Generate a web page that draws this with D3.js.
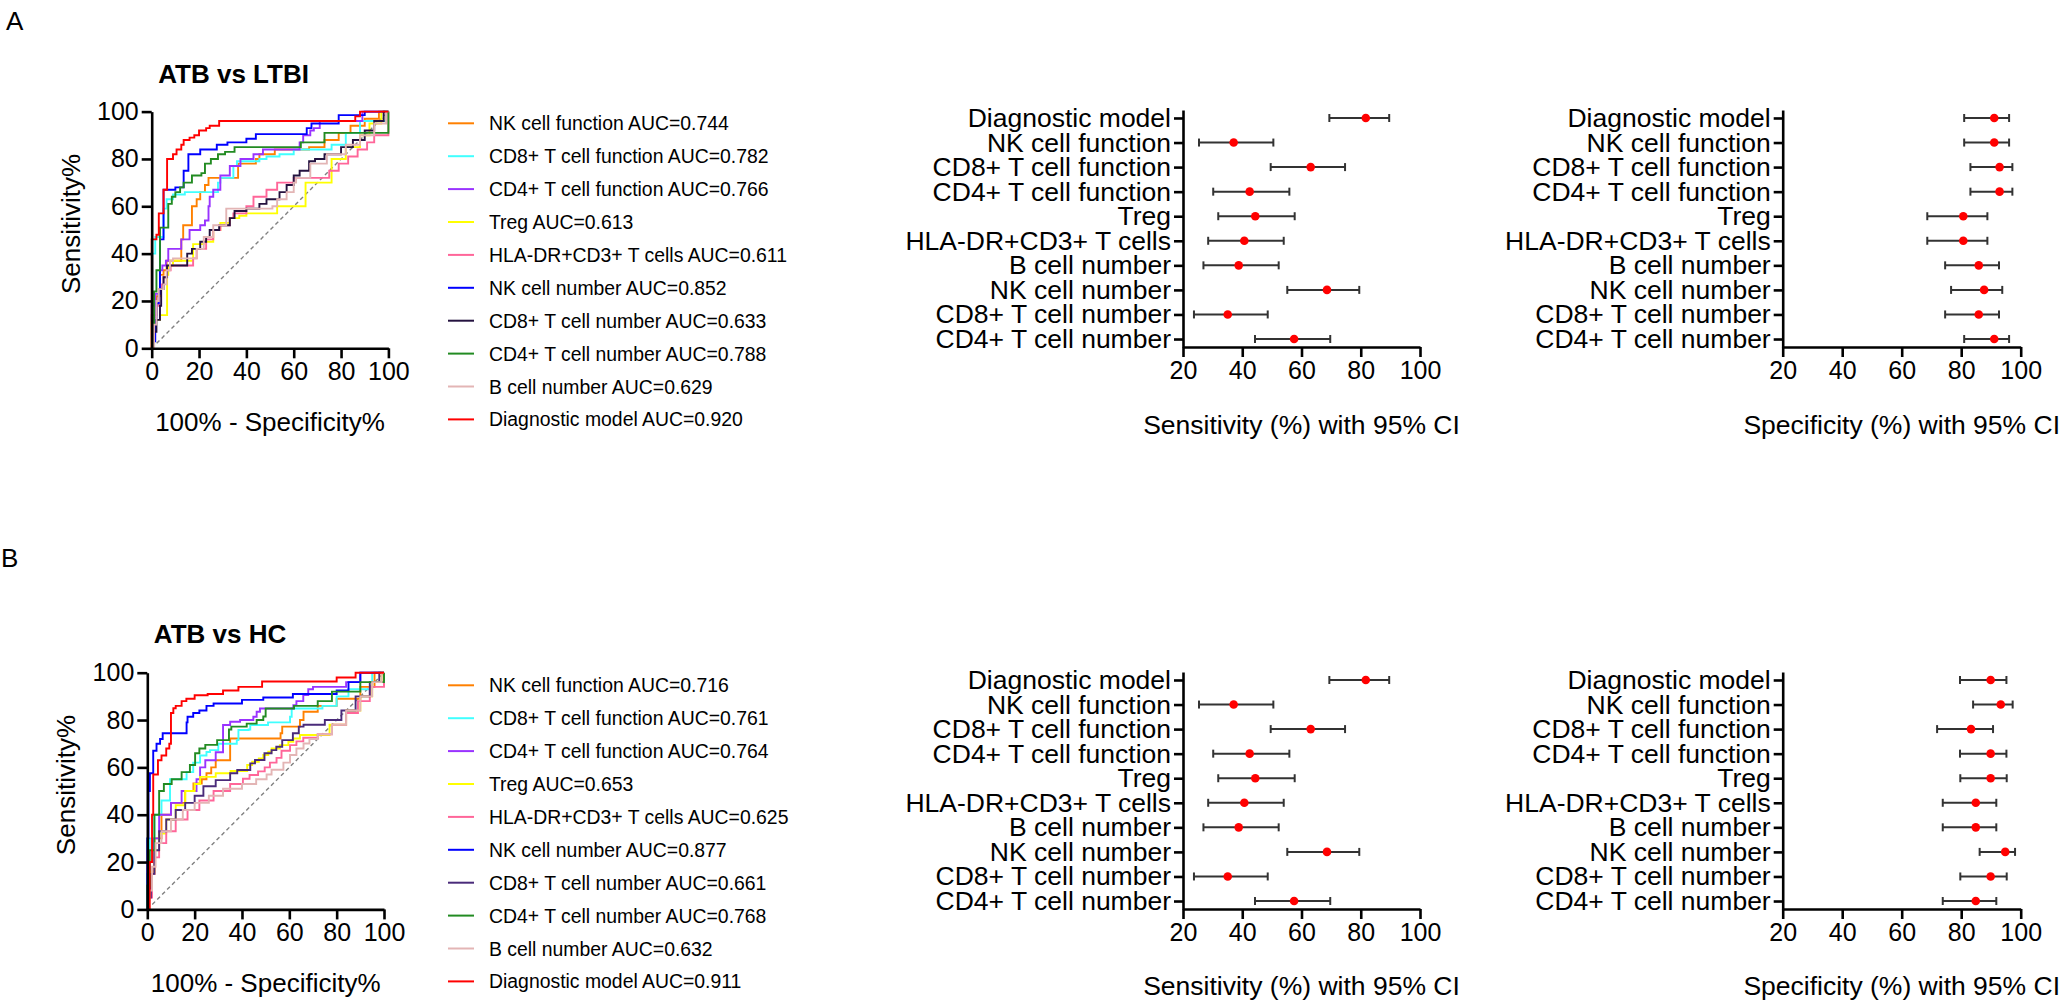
<!DOCTYPE html>
<html><head><meta charset="utf-8">
<script src="https://cdn.jsdelivr.net/npm/d3@7"></script>
<style>
body{margin:0;background:#fff;}
svg{display:block;font-family:"Liberation Sans",Arial,sans-serif;}
</style></head><body>
<svg id="chart" width="2065" height="1002"></svg>
<script>
// ---------------- DATA ----------------
const markers = ["Diagnostic model","NK cell function","CD8+ T cell function","CD4+ T cell function","Treg","HLA-DR+CD3+ T cells","B cell number","NK cell number","CD8+ T cell number","CD4+ T cell number"];

const sensA   = [81.7, 37.1, 63.1, 42.5, 44.4, 40.7, 38.8, 68.6, 35.1, 57.5];
const sensALo = [69.4, 25.4, 49.6, 30.2, 31.9, 28.5, 26.9, 55.2, 23.7, 44.3];
const sensAHi = [89.6, 50.5, 74.7, 55.9, 57.7, 54.0, 52.3, 79.5, 48.6, 69.7];
const specA   = [91.1, 91.1, 92.9, 92.9, 80.7, 80.7, 85.9, 87.7, 85.9, 91.1];
const specALo = [81.0, 81.0, 83.1, 83.1, 68.6, 68.6, 74.6, 76.6, 74.6, 81.0];
const specAHi = [96.1, 96.1, 97.2, 97.2, 88.8, 88.8, 92.7, 93.8, 92.7, 96.1];

const sensB   = [81.7, 37.1, 63.1, 42.5, 44.4, 40.7, 38.8, 68.6, 35.1, 57.5];
const sensBLo = [69.4, 25.4, 49.6, 30.2, 31.9, 28.5, 26.9, 55.2, 23.7, 44.3];
const sensBHi = [89.6, 50.5, 74.7, 55.9, 57.7, 54.0, 52.3, 79.5, 48.6, 69.7];
const specB   = [89.9, 93.3, 83.3, 89.9, 89.9, 84.9, 84.9, 94.8, 89.9, 84.9];
const specBLo = [79.6, 84.0, 71.9, 79.6, 79.7, 73.8, 73.8, 86.2, 79.7, 73.8];
const specBHi = [95.2, 97.3, 90.7, 95.2, 95.3, 91.8, 91.8, 98.1, 95.3, 91.8];

const rocNames = ["NK cell function","CD8+ T cell function","CD4+ T cell function","Treg","HLA-DR+CD3+ T cells","NK cell number","CD8+ T cell number","CD4+ T cell number","B cell number","Diagnostic model"];
const aucA = [0.744, 0.782, 0.766, 0.613, 0.611, 0.852, 0.633, 0.788, 0.629, 0.920];
const aucB = [0.716, 0.761, 0.764, 0.653, 0.625, 0.877, 0.661, 0.768, 0.632, 0.911];

const rocTicks = [0, 20, 40, 60, 80, 100];
const forestTicks = [20, 40, 60, 80, 100];

// ROC curves, panel A: [100% - specificity, sensitivity]
const rocA_nkFunc = [[0,0],[0,14],[2,22],[3.5,31],[5,33],[6.3,37],[12.5,46],[13.3,52],[17,60],[19,63],[20.5,66],[22.5,69],[24,72],[36.5,78],[44,80],[45.5,82],[52,84],[66.5,85],[73,88],[79,91],[84,94],[90,97],[96,100],[100,100]];
const rocA_cd8Func = [[0,0],[0,40],[1.5,47],[5,59],[6.3,63],[9,65],[14,66],[28,70],[29,72],[34.5,77],[36,79],[45.5,80],[48.5,81],[54,82],[60,84],[76,86],[82,91],[88,96],[99,100],[100,100]];
const rocA_cd4Func = [[0,0],[0,18],[1.5,23],[3.5,33],[4.5,35],[6,37],[7,42],[12.5,46],[16,50],[20.5,52],[22.5,54],[24,60],[24.5,64],[26,67],[29,73],[33,77],[37.5,80],[43,82],[47,84],[62.5,87],[64,90],[67,92],[68.5,93],[71,96],[89,100],[100,100]];
const rocA_treg = [[0,0],[0,11],[1.5,12],[3.5,14],[6.5,31],[7,35],[9,37],[17.5,44],[22,45],[26,50],[29,53],[33,55],[37,56],[40,57],[53,60],[65,70],[76,80],[82,85],[88,90],[92,95],[97,100],[100,100]];
const rocA_hla = [[0,0],[1,13],[2,18],[3,25],[4,27],[5,30],[6.5,33],[8,35],[17.5,38],[19,42],[23,46],[26,50],[29,52],[33,55],[34.5,57],[40,60],[43,64],[48.5,67],[53,70],[60,72],[75,75],[79,78],[83,81],[87,84],[91,87],[94,90],[100,100]];
const rocA_nkNum = [[0,0],[1,3],[1.5,12],[2,19],[3,23],[3.5,46],[5,67],[10,68],[13.5,75],[15.5,82],[20.5,84],[27.5,86],[32,87],[40,88.5],[44,90.5],[65.5,93],[67.5,95],[79,98.5],[90,100],[100,100]];
const rocA_cd8Num = [[0,0],[0.7,7],[2,12],[3.5,18],[4,25],[5,30],[6.5,35],[15,40],[17,42],[20.5,45],[23,47],[24.5,50],[28.5,52],[33,55],[35,58],[40,59],[45.5,61],[48.5,63],[54,66],[57,69],[60,73],[62.5,75],[66.5,79],[69,80],[73,82],[80,85],[85,88],[90,92],[94,96],[98,100],[100,100]];
const rocA_cd4Num = [[0,0],[1,24],[2,33],[3.5,51],[7,61],[8.5,64],[10,66],[12,68],[13.5,70],[17,73],[21,74],[22.5,78],[25,80],[28,82],[31,83],[35,85],[63,87],[73,91],[100,100]];
const rocA_bNum = [[0,0],[1,10],[2,20],[3,25],[5,27],[6.3,33],[7.7,37],[9,38],[19,42],[22,47],[26,52],[31.5,59],[51,60],[53,63],[57,66],[60,70],[61,72],[67,78],[74,82],[82,86],[88,90],[94,95],[99,100],[100,100]];
const rocA_model = [[0,0],[0,46],[2,48],[3,57],[5,67],[6.5,80],[9,82],[10.5,84],[12.5,86],[13.5,88],[16,89],[18,90],[20,92],[23,93],[24.5,94],[28.5,96],[86,98],[88,100],[100,100]];

// ROC curves, panel B
const rocB_nkFunc = [[0,0],[0,5],[1,15],[3,30],[6,40],[10,45],[16,50],[19.5,53.2],[23,55],[25,57.5],[27,60],[28.9,63],[35,72.2],[56.3,74.4],[57,77.2],[64.5,80],[66,83.5],[72,86],[80,89],[90,94],[96,100],[100,100]];
const rocB_cd8Func = [[0,0],[0,15],[1,30],[3,40],[6,46],[9.6,55],[16.6,58],[19.4,62],[22.3,65],[25,66.5],[26.5,67.3],[30,70],[37.8,71.5],[38.5,75.8],[42.8,76],[43.5,77.9],[51,79],[60.3,81.4],[61,84.9],[74,86],[80,90],[85,93],[95,100],[100,100]];
const rocB_cd4Func = [[0,0],[0,10],[1,20],[2.5,30],[5,40],[10,45],[14.5,50],[20.8,55],[22.3,60],[24.5,63],[28.9,66.4],[32,77.9],[35,79.3],[39.2,80],[44.8,81.4],[46.2,83.5],[47.6,84.9],[61.7,86.3],[63,88],[65.9,90.6],[68,93],[70,94],[84,96],[90,100],[100,100]];
const rocB_treg = [[0,0],[0.5,8],[1.5,16],[3,25],[5,32],[8,38],[12,44],[16,50],[20,53],[22.3,56],[28.9,57.5],[35.2,58.5],[42.2,61],[44.3,62.4],[47.1,63.8],[49,65.2],[51.1,66.6],[52.5,68],[56,69.4],[59.6,70.8],[61.7,72.2],[64.5,73.7],[77,78],[84,84],[90,90],[95,96],[99,100],[100,100]];
const rocB_hla = [[0,0],[0.5,5],[2,15],[3,22],[5,28],[8,33],[12,38],[17,42],[22,46],[28,50],[35,53],[40.4,55.2],[43.2,56.8],[46.8,58.3],[49.6,60],[51.8,62],[54.6,64],[56.7,67],[60.3,69.4],[63,71],[65.9,72.5],[72,74],[78,78],[84,83],[89,88],[94,94],[100,100]];
const rocB_nkNum = [[0,0],[0,30],[0.5,50],[1.1,57.5],[2.5,67],[3.9,70],[5.4,72],[6.5,74.4],[16.6,79],[17,81.4],[19.4,83],[22,84],[25,86],[28,87],[40,88.5],[49,89.5],[61.5,91],[80,92.5],[85,96],[90,100],[100,100]];
const rocB_cd8Num = [[0,0],[0.5,5],[1.5,15],[3,25],[5,33],[8,38],[12,42],[16,45],[20,48],[23.7,52],[28.9,54.6],[35,57.5],[38,58.9],[43.5,61.7],[45.5,63.1],[49.5,66],[52.5,67.3],[54.5,68.7],[57,71.5],[61.5,74.4],[64,77.2],[66,78],[75,80],[82,84],[88,90],[94,96],[98,100],[100,100]];
const rocB_cd4Num = [[0,0],[0,10],[1,25],[3,40],[5,50],[7,53],[10.3,55],[14.5,58],[18,61],[20.2,66],[22,68],[24.5,69.5],[29.5,71.5],[34.5,76],[35.5,77.2],[42,78.5],[46.2,80],[49,81.5],[50,84.9],[62,86],[72,88],[78,92],[90,96],[100,100]];
const rocB_bNum = [[0,0],[1,8],[2,18],[3.5,28],[6,33],[10,38],[15,42],[20,45],[26,48],[32,51],[40,53],[46,55],[50.4,57],[52.5,59],[57.5,62],[60.3,65.2],[63,68],[66,70.1],[68.5,72],[72,74],[78,78],[84,84],[90,90],[95,96],[99,100],[100,100]];
const rocB_model = [[0,0],[1,20],[2,40],[2.5,57],[4.5,63],[6,65],[8,68],[9.3,70],[10,83],[11,85],[12,86],[14.5,88],[16.5,89],[20,90.5],[25.5,91],[32,92.5],[38.5,94],[48.5,96.3],[80,98],[88,100],[100,100]];

// ---------------- STYLE ----------------
const colorsA = ["#ff8000","#40ffff","#9933ff","#ffff00","#ff6699","#0000ff","#24123f","#228b22","#e3b5b5","#ff0000"];
const colorsB = ["#ff8000","#40ffff","#9933ff","#ffff00","#ff6699","#0000ff","#4a2b7a","#228b22","#e3b5b5","#ff0000"];
const FONT = "Liberation Sans, Arial, sans-serif";

// ---------------- DRAW ----------------
const svg = d3.select("#chart");
svg.append("rect").attr("width", 2065).attr("height", 1002).attr("fill", "#fff");

function styleAxis(sel, fs) {
  sel.attr("font-family", FONT);
  sel.selectAll("path.domain").attr("stroke", "#000").attr("stroke-width", 2.6);
  sel.selectAll(".tick line").attr("stroke", "#000").attr("stroke-width", 2.6);
  sel.selectAll(".tick text").attr("fill", "#000").attr("font-size", fs);
}

function drawROC(cfg) {
  const x = d3.scaleLinear().domain([0, 100]).range([cfg.left, cfg.left + cfg.size]);
  const y = d3.scaleLinear().domain([0, 100]).range([cfg.bottom, cfg.bottom - cfg.size]);
  svg.append("line")
    .attr("x1", x(0)).attr("y1", y(0)).attr("x2", x(100)).attr("y2", y(100))
    .attr("stroke", "#808080").attr("stroke-width", 1.4).attr("stroke-dasharray", "4,3");
  const line = d3.line().x(d => x(d[0])).y(d => y(d[1])).curve(d3.curveStepAfter);
  cfg.curves.forEach((c, i) => {
    svg.append("path").attr("d", line(c)).attr("fill", "none")
      .attr("stroke", cfg.colors[i]).attr("stroke-width", 1.9);
  });
  const ya = svg.append("g").attr("transform", `translate(${x(0)},0)`)
    .call(d3.axisLeft(y).tickValues(rocTicks).tickSize(10).tickPadding(3).tickSizeOuter(0));
  styleAxis(ya, 25);
  const xa = svg.append("g").attr("transform", `translate(0,${y(0)})`)
    .call(d3.axisBottom(x).tickValues(rocTicks).tickSize(10).tickPadding(4).tickSizeOuter(0));
  styleAxis(xa, 25);
  svg.append("text").attr("x", x(0) + 6.5).attr("y", cfg.titleY)
    .attr("font-family", FONT).attr("font-weight", "bold").attr("font-size", 26).text(cfg.title);
  svg.append("text").attr("transform", `translate(${x(0) - 72},${(y(0) + y(100)) / 2 - 6}) rotate(-90)`)
    .attr("text-anchor", "middle").attr("font-family", FONT).attr("font-size", 26).text("Sensitivity%");
  svg.append("text").attr("x", (x(0) + x(100)) / 2).attr("y", y(0) + 83)
    .attr("text-anchor", "middle").attr("font-family", FONT).attr("font-size", 26).text("100% - Specificity%");
  // legend
  const lg = svg.append("g").attr("font-family", FONT).attr("font-size", 19.4);
  rocNames.forEach((n, i) => {
    const yy = cfg.legendTop + i * 32.9;
    lg.append("line").attr("x1", 448).attr("x2", 474).attr("y1", yy).attr("y2", yy)
      .attr("stroke", cfg.colors[i]).attr("stroke-width", 2);
    lg.append("text").attr("x", 489).attr("y", yy + 7).attr("fill", "#000")
      .text(`${n} AUC=${cfg.aucs[i].toFixed(3)}`);
  });
}

function drawForest(cfg) {
  const x = d3.scaleLinear().domain([20, 100]).range([cfg.x0, cfg.x1]);
  const y = d3.scalePoint().domain(markers).range([cfg.top, cfg.bottom]).padding(0.325);
  const g = svg.append("g");
  markers.forEach((m, i) => {
    const yy = y(m);
    g.append("line").attr("x1", x(cfg.lo[i])).attr("x2", x(cfg.hi[i])).attr("y1", yy).attr("y2", yy)
      .attr("stroke", "#333").attr("stroke-width", 2);
    [cfg.lo[i], cfg.hi[i]].forEach(v => {
      g.append("line").attr("x1", x(v)).attr("x2", x(v)).attr("y1", yy - 4).attr("y2", yy + 4)
        .attr("stroke", "#333").attr("stroke-width", 2);
    });
    g.append("circle").attr("cx", x(cfg.vals[i])).attr("cy", yy).attr("r", 4.3).attr("fill", "#ff0000");
  });
  const ya = svg.append("g").attr("transform", `translate(${x(20)},0)`)
    .call(d3.axisLeft(y).tickSize(9).tickPadding(3).tickSizeOuter(0));
  styleAxis(ya, 26.5);
  const xa = svg.append("g").attr("transform", `translate(0,${cfg.bottom})`)
    .call(d3.axisBottom(x).tickValues(forestTicks).tickSize(10).tickPadding(4).tickSizeOuter(0));
  styleAxis(xa, 25);
  svg.append("text").attr("x", (x(20) + x(100)) / 2).attr("y", cfg.titleY)
    .attr("text-anchor", "middle").attr("font-family", FONT).attr("font-size", 26.5).text(cfg.title);
}

// Panel labels
svg.append("text").attr("x", 6).attr("y", 30).attr("font-family", FONT).attr("font-size", 26).text("A");
svg.append("text").attr("x", 1).attr("y", 567).attr("font-family", FONT).attr("font-size", 26).text("B");

drawROC({left: 151.7, bottom: 348.3, size: 236.7, title: "ATB vs LTBI", titleY: 82.7,
  curves: [rocA_nkFunc, rocA_cd8Func, rocA_cd4Func, rocA_treg, rocA_hla, rocA_nkNum, rocA_cd8Num, rocA_cd4Num, rocA_bNum, rocA_model],
  colors: colorsA, aucs: aucA, legendTop: 123.3});
drawROC({left: 147.3, bottom: 909.4, size: 236.7, title: "ATB vs HC", titleY: 643.3,
  curves: [rocB_nkFunc, rocB_cd8Func, rocB_cd4Func, rocB_treg, rocB_hla, rocB_nkNum, rocB_cd8Num, rocB_cd4Num, rocB_bNum, rocB_model],
  colors: colorsB, aucs: aucB, legendTop: 685.3});

drawForest({x0: 1183, x1: 1420, top: 110, bottom: 347, vals: sensA, lo: sensALo, hi: sensAHi, title: "Sensitivity (%) with 95% CI", titleY: 434});
drawForest({x0: 1782.7, x1: 2020.7, top: 110, bottom: 347, vals: specA, lo: specALo, hi: specAHi, title: "Specificity (%) with 95% CI", titleY: 434});
drawForest({x0: 1183, x1: 1420, top: 672, bottom: 909, vals: sensB, lo: sensBLo, hi: sensBHi, title: "Sensitivity (%) with 95% CI", titleY: 995});
drawForest({x0: 1782.7, x1: 2020.7, top: 672, bottom: 909, vals: specB, lo: specBLo, hi: specBHi, title: "Specificity (%) with 95% CI", titleY: 995});
</script>
</body></html>
